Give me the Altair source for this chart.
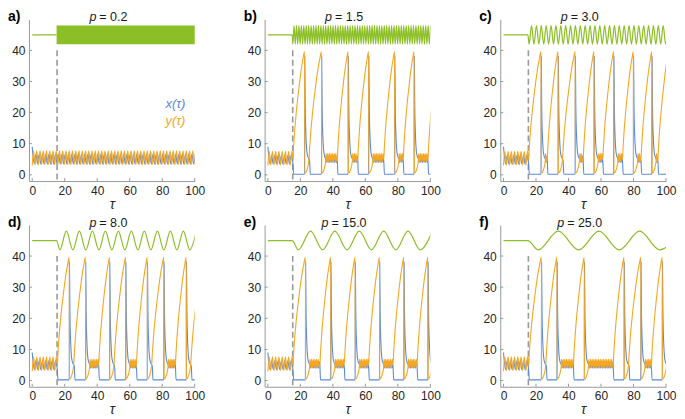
import altair as alt
import pandas as pd

# ---------------- data ----------------
P_VALUES = [0.2, 1.5, 3.0, 8.0, 15.0, 25.0]
LETTERS = ["a)", "b)", "c)", "d)", "e)", "f)"]
P_LABELS = ["= 0.2", "= 1.5", "= 3.0", "= 8.0", "= 15.0", "= 25.0"]
X_TICKS = [0, 20, 40, 60, 80, 100]
Y_TICKS = [0, 10, 20, 30, 40]

FORCE_START = 15.0
FORCE_MEAN = 45.0
FORCE_LOW = 42.0
FORCE_HIGH = 48.0
DASH_T = 15.3
DASH_Y = [-1.5, 40.5]
ONSET = 15.4

# oscillation before the forcing is switched on (identical in every panel)
PRE_X_T = [0.0, 1.3, 2.3, 3.3, 4.3, 5.3, 6.3, 7.3, 8.3, 9.3, 10.3, 11.3, 12.3, 13.3, 14.3, 15.3]
PRE_X_V = [9.0, 3.5, 6.3, 3.5, 6.3, 3.5, 6.3, 3.5, 6.3, 3.5, 6.3, 3.5, 6.3, 3.5, 6.3, 4.2]
PRE_Y_T = [0.0, 0.8, 1.8, 2.8, 3.8, 4.8, 5.8, 6.8, 7.8, 8.8, 9.8, 10.8, 11.8, 12.8, 13.8, 14.8]
PRE_Y_V = [3.0, 7.6, 3.2, 7.6, 3.2, 7.6, 3.2, 7.6, 3.2, 7.6, 3.2, 7.6, 3.2, 7.6, 3.2, 7.6]
# panel a keeps the same oscillation up to tau = 100
A_X_LEVELS = [3.5, 6.6]
A_Y_LEVELS = [7.7, 3.3]
OSC_HALF = 1.0

# relaxation spikes (times of the y maxima; the last one lies past tau = 100)
PEAKS = {
    1: [22.6, 33.0, 49.4, 62.0, 78.0, 90.0, 105.2],
    2: [23.1, 33.6, 44.1, 55.7, 67.8, 79.9, 91.3, 101.7],
    3: [22.8, 32.8, 47.6, 57.5, 70.8, 81.0, 94.8, 105.5],
    4: [23.1, 38.7, 53.7, 68.7, 83.7, 98.5, 113.0],
    5: [23.3, 32.9, 49.7, 74.2, 84.5, 97.7, 112.0],
}
# small fast oscillation episodes between spikes (None = no episode)
BLOBS = {
    1: [None, (35.6, 42.7), (52.0, 55.3), (64.6, 71.3), (80.6, 83.3), (92.6, 98.5)],
    2: [(25.7, 26.9), None, (46.7, 49.0), (58.3, 61.1), (70.4, 73.2), (82.5, 84.6), (93.9, 95.0)],
    3: [None, (35.4, 40.9), None, (60.1, 64.1), None, (83.6, 88.1), None],
    4: [(25.7, 32.0), (41.3, 47.0), (56.3, 62.0), (71.3, 77.0), (86.3, 91.8), (101.1, 106.0)],
    5: [None, (35.5, 43.0), (52.3, 67.5), None, (87.1, 91.0), (100.3, 105.0)],
}
# shapes
RISE_F = [0.0, 0.06, 0.15, 0.3, 0.5, 0.7, 0.85, 1.0]
RISE_V = [5.0, 9.0, 14.0, 20.5, 27.5, 33.5, 37.0, 39.6]
DECAY_DT = [0.12, 0.4, 0.8, 1.3, 1.9, 2.6]
DECAY_V = [38.0, 22.0, 13.0, 8.0, 6.0, 5.2]
DROP_DT = [0.12, 1.0, 2.0, 2.6]
DROP_V = [0.5, 1.0, 2.6, 4.5]
NOBLOB_X_DT = [3.1, 3.5]
NOBLOB_X_V = [4.5, 0.2]
BLOB_Y_LEVELS = [6.8, 4.2]
BLOB_X_LEVELS = [4.0, 6.0]
BLOB_HALF = 0.5
X_BASE = 0.2

LEGEND_T = 82.0
LEGEND_X_V = 22.9
LEGEND_Y_V = 17.2

# ---------------- style ----------------
BLUE = "#5B8BD8"
ORANGE = "#F5A623"
GREEN = "#8CBF26"
DASH = "#9a9a9a"
AXIS = "#9a9a9a"
W, H = 166, 162


def build_xy(i):
    xt, xv = [], []
    yt, yv = [], []
    if i == 0:
        xt.append(0.0); xv.append(9.0)
        k = 0
        t = 1.3
        while t <= 100.5:
            xt.append(t); xv.append(A_X_LEVELS[k % 2]); k += 1; t += OSC_HALF
        yt.append(0.0); yv.append(3.0)
        k = 0
        t = 0.8
        while t <= 100.5:
            yt.append(t); yv.append(A_Y_LEVELS[k % 2]); k += 1; t += OSC_HALF
        return xt, xv, yt, yv
    peaks = PEAKS[i]
    blobs = BLOBS[i]
    xt += PRE_X_T; xv += PRE_X_V
    yt += PRE_Y_T; yv += PRE_Y_V
    xt += [ONSET + 0.5, peaks[0]]; xv += [X_BASE, X_BASE]
    for f, v in zip(RISE_F, RISE_V):
        yt.append(ONSET + f * (peaks[0] - ONSET)); yv.append(v)
    for j in range(len(peaks) - 1):
        ts, tn = peaks[j], peaks[j + 1]
        for d, v in zip(DECAY_DT, DECAY_V):
            xt.append(ts + d); xv.append(v)
        for d, v in zip(DROP_DT, DROP_V):
            yt.append(ts + d); yv.append(v)
        b = blobs[j]
        if b is None:
            for d, v in zip(NOBLOB_X_DT, NOBLOB_X_V):
                xt.append(ts + d); xv.append(v)
            start = ts + 2.7
        else:
            s, e = b
            k = 0
            t = s + BLOB_HALF / 2
            while t < e - 0.1:
                yt.append(t); yv.append(BLOB_Y_LEVELS[k % 2]); k += 1; t += BLOB_HALF
            k = 0
            t = s + BLOB_HALF
            while t < e - 0.1:
                xt.append(t); xv.append(BLOB_X_LEVELS[k % 2]); k += 1; t += BLOB_HALF
            xt += [e, e + 0.4]; xv += [5.0, X_BASE]
            start = e
        xt.append(tn); xv.append(X_BASE)
        for f, v in zip(RISE_F, RISE_V):
            yt.append(start + f * (tn - start)); yv.append(v)
    return xt, xv, yt, yv


def build_green(i):
    p = P_VALUES[i]
    gt = [0.0, FORCE_START]
    gv = [FORCE_MEAN, FORCE_MEAN]
    if i == 0:
        return gt, gv
    k = 0
    t = FORCE_START + p / 4
    while t < 100 + p / 2:
        gt.append(t); gv.append(FORCE_LOW if k % 2 == 0 else FORCE_HIGH)
        k += 1; t += p / 2
    return gt, gv


def enc_x():
    return alt.X("t:Q", scale=alt.Scale(domain=[-2, 100], nice=False, zero=False),
                 axis=alt.Axis(values=X_TICKS, title="τ", labelFlush=False, labelOverlap=False))


def enc_y():
    return alt.Y("v:Q", scale=alt.Scale(domain=[-2, 50], nice=False, zero=False),
                 axis=alt.Axis(values=Y_TICKS, title=None))


def line(df, color, width=1.1):
    return alt.Chart(df).mark_line(color=color, strokeWidth=width, interpolate="monotone",
                                   clip=True).encode(x=enc_x(), y=enc_y(), order="k:Q")


def panel(i):
    xt, xv, yt, yv = build_xy(i)
    gt, gv = build_green(i)
    dfx = pd.DataFrame({"t": xt, "v": xv, "k": range(len(xt))})
    dfy = pd.DataFrame({"t": yt, "v": yv, "k": range(len(yt))})
    dfg = pd.DataFrame({"t": gt, "v": gv, "k": range(len(gt))})
    layers = [line(dfg, GREEN, 1.2)]
    if i == 0:
        band = pd.DataFrame({"t": [FORCE_START], "t2": [100.0], "v": [FORCE_LOW], "v2": [FORCE_HIGH]})
        layers.append(alt.Chart(band).mark_rect(color=GREEN).encode(
            x=enc_x(), x2="t2:Q", y=enc_y(), y2="v2:Q"))
    dash = pd.DataFrame({"t": [DASH_T], "v": [DASH_Y[0]], "v2": [DASH_Y[1]]})
    layers.append(alt.Chart(dash).mark_rule(color=DASH, strokeWidth=1.6, strokeDash=[6, 3.5]).encode(
        x=enc_x(), y=enc_y(), y2="v2:Q"))
    layers.append(line(dfx, BLUE))
    layers.append(line(dfy, ORANGE))
    # inward tick marks
    layers.append(alt.Chart(pd.DataFrame({"t": X_TICKS})).mark_rule(color=AXIS).encode(
        x=enc_x(), y=alt.value(H), y2=alt.value(H - 3)))
    layers.append(alt.Chart(pd.DataFrame({"v": Y_TICKS})).mark_rule(color=AXIS).encode(
        x=alt.value(0), x2=alt.value(3), y=enc_y()))
    # title "p = ..."
    mid = 49.0
    lab = P_LABELS[i]
    half = (10 + 7 * len(lab)) / 2.0
    split = -half + 10
    tdf = pd.DataFrame({"t": [mid], "v": [49.3], "p": ["p"], "rest": [lab], "letter": [LETTERS[i]]})
    layers.append(alt.Chart(tdf).mark_text(font="Liberation Sans", fontSize=12.5, fontStyle="italic",
                                           align="left", baseline="alphabetic", dx=-half, color="#1a1a1a").encode(
        x=enc_x(), y=enc_y(), text="p:N"))
    layers.append(alt.Chart(tdf).mark_text(font="Liberation Sans", fontSize=12.5,
                                           align="left", baseline="alphabetic", dx=split, color="#1a1a1a").encode(
        x=enc_x(), y=enc_y(), text="rest:N"))
    layers.append(alt.Chart(tdf).mark_text(font="Liberation Sans", fontSize=14, fontWeight="bold",
                                           align="left", baseline="alphabetic", color="#000000").encode(
        x=alt.value(-21), y=enc_y(), text="letter:N"))
    if i == 0:
        ldf = pd.DataFrame({"t": [LEGEND_T, LEGEND_T], "v": [LEGEND_X_V, LEGEND_Y_V],
                            "lab": ["x(τ)", "y(τ)"], "c": [BLUE, ORANGE]})
        layers.append(alt.Chart(ldf).mark_text(font="Liberation Sans", fontSize=13, fontStyle="italic",
                                               align="left", baseline="middle").encode(
            x=enc_x(), y=enc_y(), text="lab:N", color=alt.Color("c:N", scale=None)))
    return alt.layer(*layers).properties(width=W, height=H)


chart = alt.concat(*[panel(i) for i in range(6)], columns=3,
                   spacing={"row": 44, "column": 70}, bounds="flush").properties(
    padding={"left": 0, "top": 2, "right": 0, "bottom": 0}
).configure_view(
    stroke=None
).configure_axis(
    domainColor=AXIS, domainWidth=1, ticks=False, grid=False,
    labelFont="Liberation Sans", labelFontSize=12, labelColor="#262626", labelPadding=4,
    titleFont="Liberation Sans", titleFontSize=14, titleFontStyle="italic", titleFontWeight="normal",
    titleColor="#262626", titlePadding=1
)

chart.save("out.html", embed_options={"renderer": "svg", "actions": False})
